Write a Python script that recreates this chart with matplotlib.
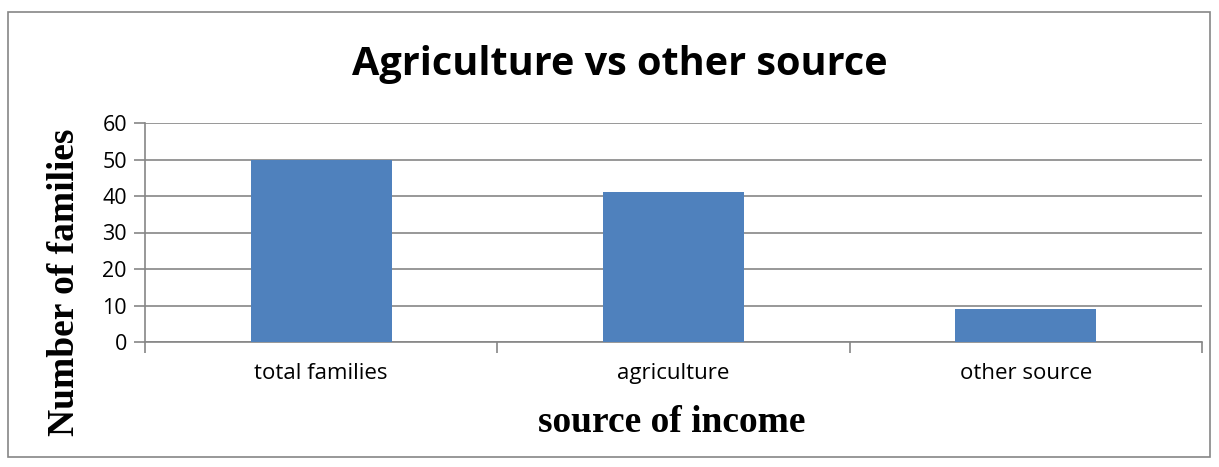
import matplotlib.pyplot as plt
from matplotlib.patches import Rectangle

# chart data
categories = ['total families', 'agriculture', 'other source']
families = [50, 41, 9]
y_ticks = [0, 10, 20, 30, 40, 50, 60]

W, H = 1219, 467
fig = plt.figure(figsize=(W / 100, H / 100), dpi=100)

# outer chart border
fig.patches.append(Rectangle((8 / W, 1 - 457 / H), (1210 - 8) / W, (457 - 12) / H,
                             transform=fig.transFigure, fill=False,
                             edgecolor='#868686', linewidth=1.2))

ax = fig.add_axes([145 / W, 1 - 342 / H, (1202 - 145) / W, (342 - 123) / H])
x = range(len(categories))
ax.bar(x, families, width=0.4, color='#4F81BD', zorder=3)

ax.set_xlim(-0.5, len(categories) - 0.5)
ax.set_ylim(0, 60)
ax.set_yticks(y_ticks)
ax.set_yticklabels([str(v) for v in y_ticks], fontsize=15.5, family='Open Sans')
ax.set_xticks(list(x))
ax.set_xticklabels(categories, fontsize=16, family='Open Sans')
ax.tick_params(axis='x', length=0, pad=15)
ax.tick_params(axis='y', length=8, color='#868686', width=1.2, pad=5)

# category boundary ticks below the axis
ax.set_xticks([i - 0.5 for i in range(len(categories) + 1)], minor=True)
ax.tick_params(axis='x', which='minor', length=8, color='#868686', width=1.2)

ax.grid(axis='y', color='#868686', linewidth=1.2, zorder=0)
for side in ['top', 'right']:
    ax.spines[side].set_visible(False)
for side in ['left', 'bottom']:
    ax.spines[side].set_color('#868686')
    ax.spines[side].set_linewidth(1.2)

fig.text(620 / W, 1 - 65 / H, 'Agriculture vs other source', ha='center', va='center',
         fontsize=28.5, fontweight='bold', family='Open Sans')
fig.text(65 / W, 1 - 282 / H, 'Number of families', rotation=90, ha='center', va='center',
         fontsize=27, fontweight='bold', family='Liberation Serif')
fig.text(672 / W, 1 - 422 / H, 'source of income', ha='center', va='center',
         fontsize=27, fontweight='bold', family='Liberation Serif')

fig.savefig('out.png', dpi=100)
